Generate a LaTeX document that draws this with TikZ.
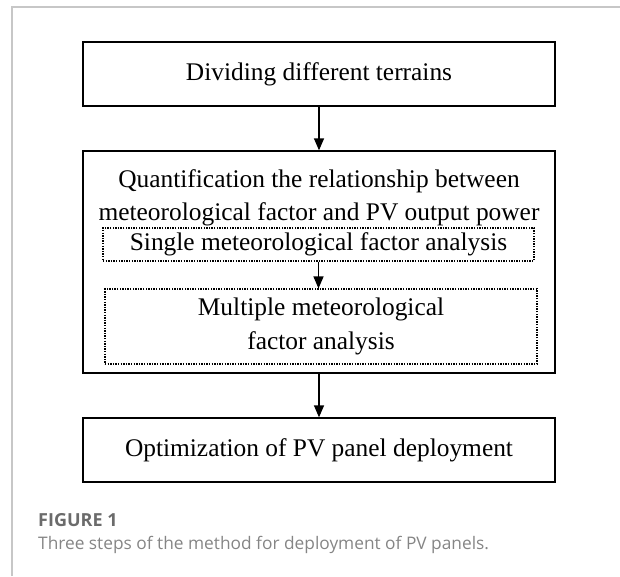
\documentclass[tikz,border=0pt]{standalone}
\usepackage{fontspec}
\setmainfont{Liberation Serif}
\newfontfamily\capfont{Open Sans}
\usetikzlibrary{arrows.meta}

\begin{document}
\begin{tikzpicture}[x=1pt, y=-1pt,
    stepbox/.style={draw, line width=1.3pt, inner sep=0pt, minimum width=472pt},
    subbox/.style={draw, line width=1.1pt, dash pattern=on 1.4pt off 1.2pt, inner sep=0pt},
    steptext/.style={font=\fontsize{25.4}{33.5}\selectfont, align=center},
    flow/.style={-{Triangle[length=12pt,width=10pt]}, line width=1.3pt}]

    % Card frame
    \useasboundingbox (0,0) rectangle (620,576);
    \draw[black!22, line width=1.2pt] (12,576) -- (12,7) -- (620,7);

    % Step 1
    \node[stepbox, steptext, minimum height=64pt] (divide) at (319,74) {Dividing different terrains};

    % Step 2 with its two analyses
    \node[stepbox, minimum height=222pt] (quant) at (319,262) {};
    \node[steptext] (quanttxt) at (319,198) {Quantification the relationship between\\meteorological factor and PV output power};
    \node[subbox, steptext, minimum width=431pt, minimum height=33pt] (single) at (318.5,244.5) {Single meteorological factor analysis};
    \node[subbox, steptext, minimum width=432pt, minimum height=75pt] (multi) at (321,326.5) {Multiple meteorological\\factor analysis};

    % Step 3
    \node[stepbox, steptext, minimum height=64pt] (optim) at (319,450) {Optimization of PV panel deployment};

    % Arrows
    \draw[flow] (divide) -- (quant);
    \draw[flow] (single.south) -- (single.south |- multi.north);
    \draw[flow] (quant) -- (optim);

    % Caption
    \node[anchor=base west, inner sep=0pt, text=black!58, font=\capfont\bfseries\fontsize{18}{20}\selectfont] (figlabel) at (38,526) {FIGURE 1};
    \node[anchor=base west, inner sep=0pt, text=black!48, font=\capfont\fontsize{17.3}{20}\selectfont] (figcap) at (38,549) {Three steps of the method for deployment of PV panels.};
\end{tikzpicture}
\end{document}
